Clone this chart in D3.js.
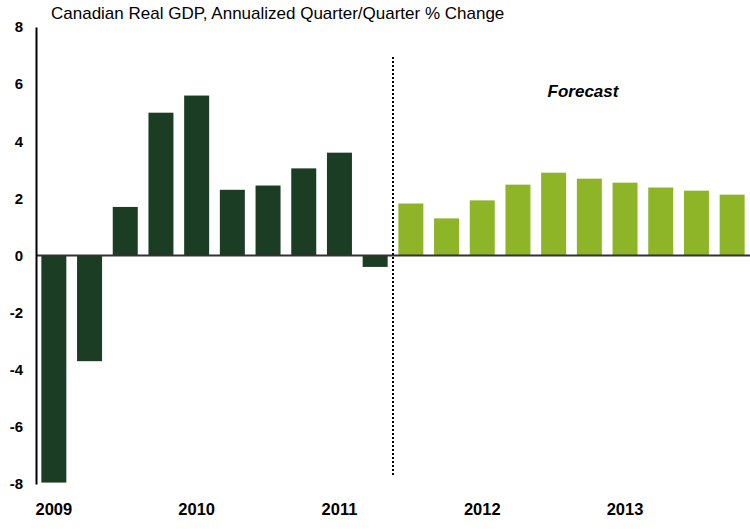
<!DOCTYPE html>
<html>
<head>
<meta charset="utf-8">
<script src="https://cdn.jsdelivr.net/npm/d3@7/dist/d3.min.js"></script>
<style>
  html, body { margin: 0; padding: 0; background: #fff; }
  svg { display: block; font-family: "Liberation Sans", Arial, sans-serif; }
</style>
</head>
<body>
<svg id="chart" width="750" height="529"></svg>
<script>
// Quarterly periods, 2009 Q1 through 2013 Q4
const quarters = [
  "2009Q1","2009Q2","2009Q3","2009Q4",
  "2010Q1","2010Q2","2010Q3","2010Q4",
  "2011Q1","2011Q2","2011Q3","2011Q4",
  "2012Q1","2012Q2","2012Q3","2012Q4",
  "2013Q1","2013Q2","2013Q3","2013Q4"
];
// Annualized q/q % change in real GDP
const gdpChange = [
  -7.95, -3.7, 1.7, 5.0,
  5.6, 2.3, 2.45, 3.05,
  3.6, -0.4, 1.82, 1.3,
  1.93, 2.48, 2.9, 2.69,
  2.55, 2.38, 2.27, 2.13
];
// First forecast quarter
const forecastStart = "2011Q3";
const yTicks = [-8, -6, -4, -2, 0, 2, 4, 6, 8];
const yearLabels = ["2009", "2010", "2011", "2012", "2013"];

const svg = d3.select("#chart");
const plotLeft = 36, plotRight = 750, plotTop = 27, plotBottom = 484;

const x = d3.scaleBand().domain(quarters).range([plotLeft, plotRight]).paddingInner(0.3).paddingOuter(0.15);
const y = d3.scaleLinear().domain([-8, 8]).range([plotBottom, plotTop]);

const isForecast = q => quarters.indexOf(q) >= quarters.indexOf(forecastStart);

// Bars
svg.append("g").selectAll("rect")
  .data(quarters.map((q, i) => ({ q, v: gdpChange[i] })))
  .join("rect")
  .attr("x", d => x(d.q))
  .attr("width", x.bandwidth())
  .attr("y", d => y(Math.max(0, d.v)))
  .attr("height", d => Math.abs(y(d.v) - y(0)))
  .attr("fill", d => isForecast(d.q) ? "#8db527" : "#1a3d23");

// Zero line
svg.append("line")
  .attr("x1", plotLeft).attr("x2", plotRight)
  .attr("y1", y(0)).attr("y2", y(0))
  .attr("stroke", "#333").attr("stroke-width", 2);

// Y axis (plain hyphen for negatives)
const yAxis = d3.axisLeft(y).tickValues(yTicks).tickSize(0).tickPadding(13).tickFormat(d => String(d));
const ya = svg.append("g").attr("transform", `translate(${plotLeft},0)`).call(yAxis);
ya.select(".domain").attr("stroke", "#000").attr("stroke-width", 2);
ya.selectAll("text")
  .attr("fill", "#000")
  .style("font-size", "15px")
  .style("font-weight", "bold")
  .style("font-family", "Liberation Sans, Arial, sans-serif");

// Year labels beneath first quarter of each year
const xAxis = d3.axisBottom(x)
  .tickValues(yearLabels.map(yr => yr + "Q1"))
  .tickFormat(d => d.slice(0, 4))
  .tickSize(0).tickPadding(0);
const xa = svg.append("g").attr("transform", "translate(0,503)").call(xAxis);
xa.select(".domain").remove();
xa.selectAll("text")
  .attr("fill", "#000")
  .style("font-size", "16.5px")
  .style("font-weight", "bold")
  .style("font-family", "Liberation Sans, Arial, sans-serif");

// Forecast divider
const divX = x(forecastStart) - x.step() * x.paddingInner() / 2;
svg.append("line")
  .attr("x1", divX).attr("x2", divX)
  .attr("y1", 57).attr("y2", 476)
  .attr("stroke", "#000").attr("stroke-width", 2)
  .attr("stroke-dasharray", "2,2");

svg.append("text")
  .attr("x", 583).attr("y", 97)
  .attr("text-anchor", "middle")
  .style("font-size", "17px")
  .style("font-weight", "bold")
  .style("font-style", "italic")
  .text("Forecast");

// Title
svg.append("text")
  .attr("x", 51).attr("y", 19)
  .style("font-size", "17px")
  .text("Canadian Real GDP, Annualized Quarter/Quarter % Change");
</script>
</body>
</html>
